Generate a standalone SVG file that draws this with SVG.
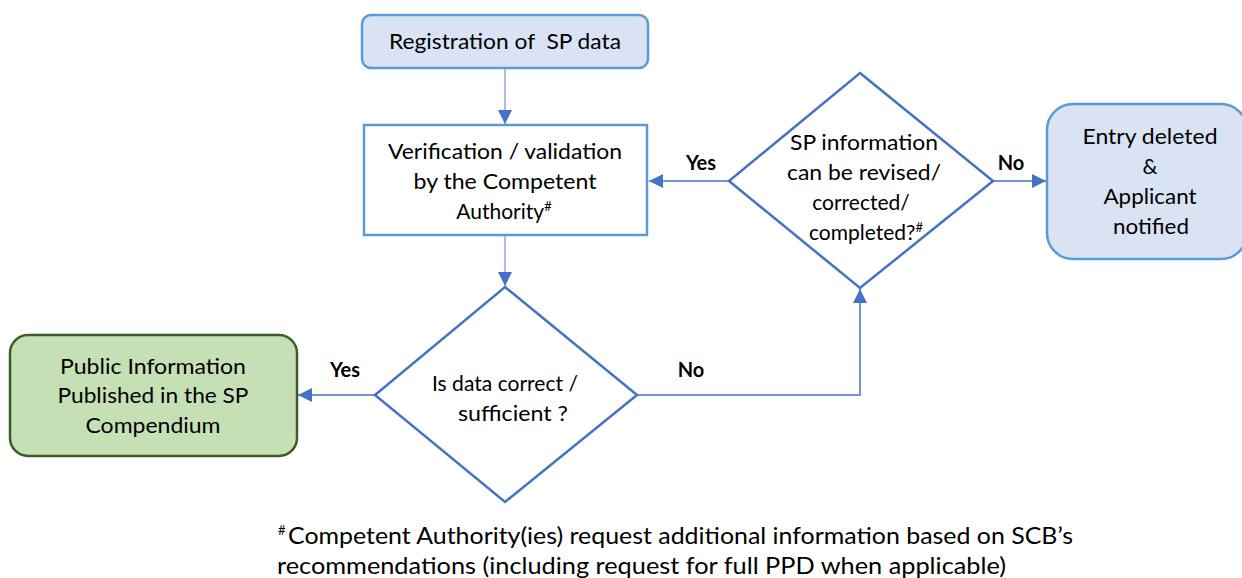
<svg xmlns="http://www.w3.org/2000/svg" width="1242" height="578" viewBox="0 0 1242 578">
  <style>
    .t { font-family: Lato, "Liberation Sans", sans-serif; font-size: 21px; fill: #000; text-anchor: middle; }
    .lbl { font-family: Lato, "Liberation Sans", sans-serif; font-size: 20px; font-weight: bold; fill: #000; text-anchor: middle; }
    .foot { font-family: Lato, "Liberation Sans", sans-serif; font-size: 23px; fill: #000; }
    .sup { font-size: 13px; }
    .blue { fill: #dae3f3; stroke: #5b9bd5; stroke-width: 2.5; }
    .plain { fill: #ffffff; stroke: #5b9bd5; stroke-width: 2.5; }
    .green { fill: #c5e0b4; stroke: #3b5e27; stroke-width: 2.5; }
    .dia { fill: #ffffff; stroke: #4472c4; stroke-width: 2.5; }
    .edge { fill: none; stroke: #4472c4; stroke-width: 1.5; }
    .edge-soft { fill: none; stroke: #8fa9dc; stroke-width: 1.5; }
  </style>
  <defs>
    <marker id="arrowL" viewBox="0 0 12 12" refX="12" refY="6" markerWidth="14" markerHeight="14" markerUnits="userSpaceOnUse" orient="auto">
      <path d="M0,0 L12,6 L0,12 z" fill="#4472c4"/>
    </marker>
  </defs>

  <g id="connectors">
    <path class="edge-soft" d="M505,68 V124" marker-end="url(#arrowL)"/>
    <path class="edge-soft" d="M505,235 V286" marker-end="url(#arrowL)"/>
    <path class="edge" d="M729,181 H649" marker-end="url(#arrowL)"/>
    <path class="edge" d="M993,181 H1046" marker-end="url(#arrowL)"/>
    <path class="edge" d="M375,395 H298" marker-end="url(#arrowL)"/>
    <path class="edge" d="M637,395 H860 V289" marker-end="url(#arrowL)"/>
    <text class="lbl" x="701" y="170">Yes</text>
    <text class="lbl" x="1011" y="170">No</text>
    <text class="lbl" x="345" y="377">Yes</text>
    <text class="lbl" x="691" y="377">No</text>
  </g>

  <g id="registration">
    <rect class="blue" x="362" y="15" width="286" height="53" rx="9"/>
    <text class="t" x="505" y="49" xml:space="preserve" textLength="232" lengthAdjust="spacingAndGlyphs">Registration of  SP data</text>
  </g>

  <g id="verification">
    <rect class="plain" x="364" y="125" width="283" height="110"/>
    <text class="t" x="505" y="159" textLength="234" lengthAdjust="spacingAndGlyphs">Verification / validation</text>
    <text class="t" x="505" y="189" textLength="183" lengthAdjust="spacingAndGlyphs">by the Competent</text>
    <text class="t" x="504" y="219">Authority<tspan class="sup" dy="-8">#</tspan></text>
  </g>

  <g id="revise-decision">
    <polygon class="dia" points="860,73 993,181 860,288 729,181"/>
    <text class="t" x="864" y="150" textLength="148" lengthAdjust="spacingAndGlyphs">SP information</text>
    <text class="t" x="864" y="180" textLength="154" lengthAdjust="spacingAndGlyphs">can be revised/</text>
    <text class="t" x="861" y="210">corrected/</text>
    <text class="t" x="866" y="240">completed?<tspan class="sup" dy="-8">#</tspan></text>
  </g>

  <g id="entry-deleted">
    <rect class="blue" x="1047" y="104" width="200" height="155" rx="26"/>
    <text class="t" x="1150" y="144" textLength="135" lengthAdjust="spacingAndGlyphs">Entry deleted</text>
    <text class="t" x="1150" y="174">&amp;</text>
    <text class="t" x="1150" y="204" textLength="93" lengthAdjust="spacingAndGlyphs">Applicant</text>
    <text class="t" x="1151" y="234" textLength="76" lengthAdjust="spacingAndGlyphs">notified</text>
  </g>

  <g id="data-decision">
    <polygon class="dia" points="505,287 637,395 505,502 375,395"/>
    <text class="t" x="505" y="391" textLength="146" lengthAdjust="spacingAndGlyphs">Is data correct /</text>
    <text class="t" x="513" y="421" textLength="110" lengthAdjust="spacingAndGlyphs">sufficient ?</text>
  </g>

  <g id="published">
    <rect class="green" x="10" y="335" width="287" height="121" rx="18"/>
    <text class="t" x="153" y="374" textLength="186" lengthAdjust="spacingAndGlyphs">Public Information</text>
    <text class="t" x="153" y="403" textLength="191" lengthAdjust="spacingAndGlyphs">Published in the SP</text>
    <text class="t" x="153" y="433" textLength="135" lengthAdjust="spacingAndGlyphs">Compendium</text>
  </g>

  <g id="footnote">
    <text class="foot" x="278" y="544"><tspan class="sup" dy="-9">#</tspan><tspan x="288" dy="9" textLength="785" lengthAdjust="spacingAndGlyphs">Competent Authority(ies) request additional information based on SCB’s</tspan></text>
    <text class="foot" x="277" y="574" textLength="729" lengthAdjust="spacingAndGlyphs">recommendations (including request for full PPD when applicable)</text>
  </g>
</svg>
